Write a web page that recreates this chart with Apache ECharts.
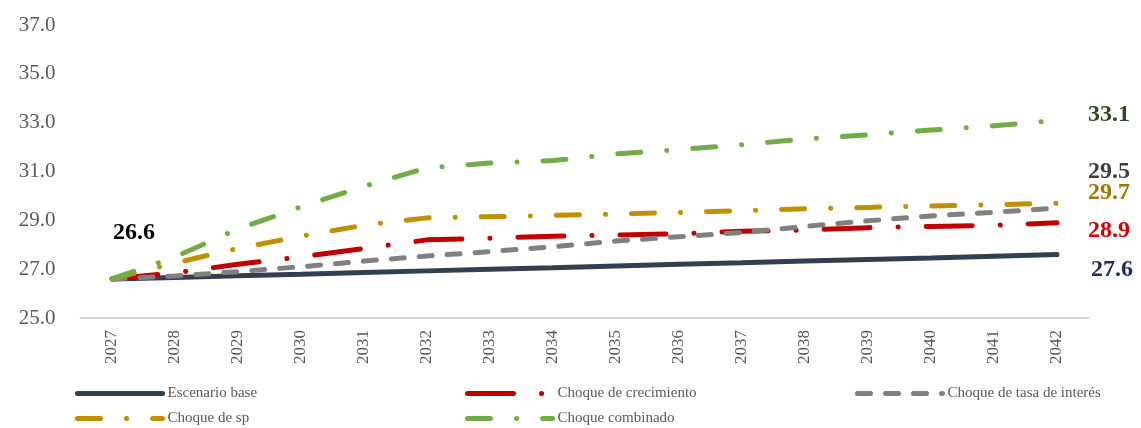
<!DOCTYPE html>
<html>
<head>
<meta charset="utf-8">
<script src="https://cdn.jsdelivr.net/npm/echarts@6/dist/echarts.min.js"></script>
<style>
  html, body { margin: 0; padding: 0; background: #fff; }
  #chart { width: 1141px; height: 428px; }
</style>
</head>
<body>
<div id="chart"></div>
<script>
var years = ['2027','2028','2029','2030','2031','2032','2033','2034','2035','2036','2037','2038','2039','2040','2041','2042'];

// valores
var base        = [26.6, 26.66, 26.73, 26.79, 26.86, 26.93, 27.0, 27.06, 27.13, 27.2, 27.26, 27.33, 27.4, 27.46, 27.53, 27.6];
var crecimiento = [26.6, 26.85, 27.2, 27.5, 27.85, 28.2, 28.27, 28.35, 28.4, 28.45, 28.55, 28.6, 28.7, 28.75, 28.8, 28.9];
var tasa        = [26.6, 26.72, 26.9, 27.1, 27.33, 27.54, 27.72, 27.92, 28.15, 28.33, 28.5, 28.75, 28.98, 29.18, 29.33, 29.5];
var sp          = [26.6, 27.25, 27.85, 28.35, 28.8, 29.1, 29.15, 29.2, 29.26, 29.32, 29.4, 29.47, 29.53, 29.59, 29.64, 29.7];
var combinado   = [26.6, 27.5, 28.65, 29.55, 30.4, 31.15, 31.35, 31.45, 31.72, 31.9, 32.1, 32.33, 32.5, 32.7, 32.87, 33.1];

var FONT = 'Liberation Serif';

function fmt(p) { return p.value.toFixed(1); }

// etiqueta en el ultimo punto (y en el primero para el escenario base)
function withLabels(values, color, endOffset, startLabel) {
    var out = values.slice();
    var last = out.length - 1;
    out[last] = {
        value: values[last],
        symbol: 'circle', symbolSize: 0.1,
        label: {
            show: true, position: 'right', distance: 0, offset: endOffset,
            color: color, fontFamily: FONT, fontSize: 24, fontWeight: 'bold',
            formatter: fmt
        }
    };
    if (startLabel) {
        out[0] = {
            value: values[0],
            symbol: 'circle', symbolSize: 0.1,
            label: {
                show: true, position: 'top', distance: 0, offset: [22, -34],
                color: '#000', fontFamily: FONT, fontSize: 24, fontWeight: 'bold',
                formatter: fmt
            }
        };
    }
    return out;
}

function lineSerie(name, values, color, dash, labelColor, endOffset, startLabel) {
    return {
        name: name,
        type: 'line',
        symbol: 'none',
        silent: true,
        animation: false,
        data: withLabels(values, labelColor, endOffset, startLabel),
        lineStyle: { color: color, width: 5, type: dash, cap: 'round' },
        itemStyle: { color: color }
    };
}

function legendAt(name, left, top) {
    return {
        data: [name],
        left: left,
        top: top,
        padding: 0,
        itemWidth: 85,
        itemHeight: 8,
        itemStyle: { opacity: 0 },
        lineStyle: { width: 5 },
        textStyle: { fontFamily: FONT, fontSize: 15, color: '#595959' }
    };
}

var myChart = echarts.init(document.getElementById('chart'));
var option = {
    animation: false,
    grid: { left: 80.5, right: 52.5, top: 25, bottom: 110 },
    legend: [
        legendAt('Escenario base', 75, 386),
        legendAt('Choque de crecimiento', 465, 386),
        legendAt('Choque de tasa de interés', 855, 386),
        legendAt('Choque de sp', 75, 411),
        legendAt('Choque combinado', 465, 411)
    ],
    xAxis: {
        type: 'category',
        data: years,
        boundaryGap: true,
        axisLine: { lineStyle: { color: '#D9D9D9', width: 2 } },
        axisTick: { show: false },
        axisLabel: { rotate: 90, margin: 12, fontFamily: FONT, fontSize: 17, color: '#595959' }
    },
    yAxis: {
        type: 'value',
        min: 25,
        max: 37,
        interval: 2,
        splitLine: { show: false },
        axisLine: { show: false },
        axisTick: { show: false },
        axisLabel: {
            margin: 25, fontFamily: FONT, fontSize: 21, color: '#595959',
            formatter: function (v) { return v.toFixed(1); }
        }
    },
    series: [
        lineSerie('Escenario base', base, '#323F4F', 'solid', '#1F2D5A', [34, 15], true),
        lineSerie('Choque de crecimiento', crecimiento, '#C00000', [46, 28, 0.1, 28], '#D00000', [31, 8]),
        lineSerie('Choque de tasa de interés', tasa, '#808080', [13, 15], '#404040', [31, -36]),
        lineSerie('Choque de sp', sp, '#BF9000', [23, 26, 0.1, 26], '#A07800', [31, -10]),
        lineSerie('Choque combinado', combinado, '#70AD47', [23, 26, 0.1, 26], '#2E4A1E', [31, -5])
    ]
};
myChart.setOption(option);
</script>
</body>
</html>
